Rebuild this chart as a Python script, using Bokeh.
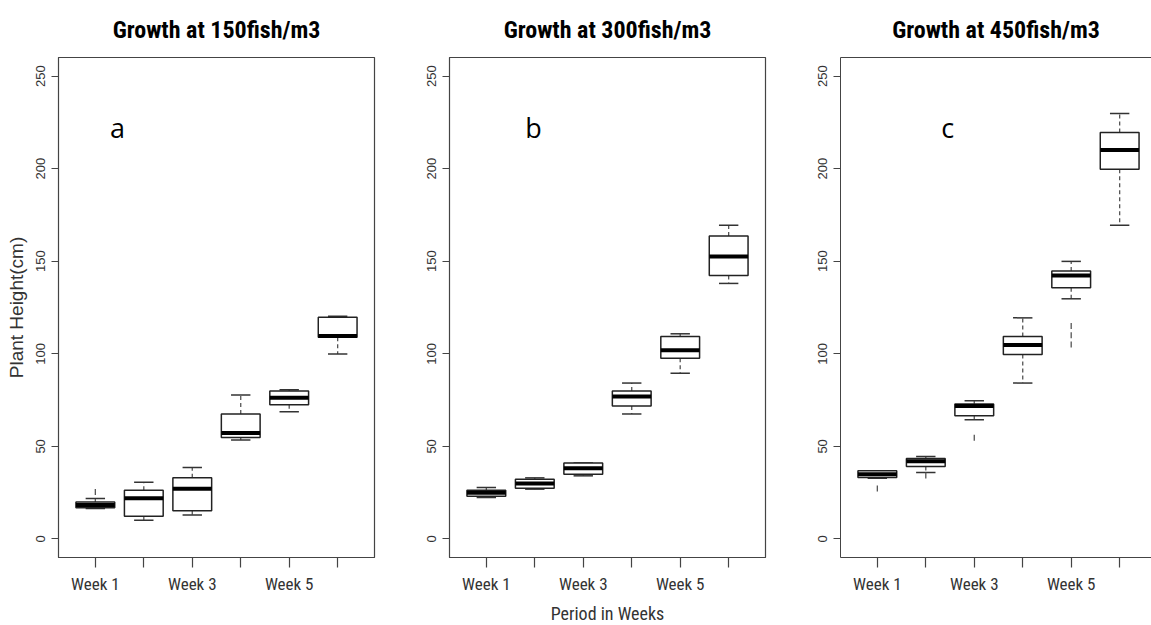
import numpy as np
from bokeh.plotting import figure
from bokeh.layouts import row
from bokeh.models import FixedTicker, Range1d, Label, LinearAxis, ColumnDataSource
from bokeh.embed import file_html
from bokeh.resources import INLINE

# Weekly plant height (cm) under three stocking densities
weeks = ["Week 1", "Week 2", "Week 3", "Week 4", "Week 5", "Week 6"]

# 150 fish/m3
a_lower = [16.4, 10.1, 13.0, 53.4, 68.7, 99.9]
a_q1 = [16.9, 12.3, 15.2, 54.8, 72.5, 108.9]
a_median = [18.4, 22.0, 27.1, 57.2, 76.3, 109.6]
a_q3 = [20.0, 26.3, 33.0, 67.5, 79.9, 119.8]
a_upper = [21.8, 30.7, 38.6, 77.7, 80.6, 120.3]
a_out_week = [1]
a_out_value = [25.4]

# 300 fish/m3
b_lower = [22.4, 26.9, 34.1, 67.5, 89.5, 138.0]
b_q1 = [23.1, 27.4, 35.0, 71.8, 97.6, 142.3]
b_median = [24.9, 29.9, 38.2, 77.0, 101.9, 152.6]
b_q3 = [26.3, 32.3, 41.0, 79.9, 109.3, 163.6]
b_upper = [27.8, 33.0, 41.0, 84.2, 110.8, 169.4]
b_out_week = []
b_out_value = []

# 450 fish/m3
c_lower = [32.8, 35.9, 64.4, 84.2, 129.7, 169.4]
c_q1 = [33.2, 39.1, 66.6, 99.6, 135.6, 199.7]
c_median = [35.0, 42.0, 71.8, 104.8, 142.3, 210.0]
c_q3 = [36.8, 43.5, 72.9, 109.3, 144.7, 219.5]
c_upper = [36.8, 44.5, 74.7, 119.4, 149.9, 229.8]
c_out_week = [1, 2, 3, 5, 5, 5]
c_out_value = [27.3, 34.3, 54.6, 105.0, 110.0, 115.0]

y_ticks = [0, 50, 100, 150, 200, 250]

NARROW = ("'Liberation Sans Narrow', 'Arial Narrow', 'Roboto Condensed', "
          "'DejaVu Sans Condensed', 'Noto Sans Condensed', 'Liberation Sans', sans-serif")
SANS = "Liberation Sans"
AXIS_COL = "#444444"
TEXT_COL = "#333333"
PX_PER_UNIT = 316 / 6.52


def panel(title, letter, letter_x, lower, q1, med, q3, upper, out_w, out_v,
          frame_w=316, y_label=None, x_label=None, open_right=False):
    x0 = 0.24
    p = figure(frame_width=frame_w, frame_height=500,
               x_range=Range1d(x0, x0 + frame_w / PX_PER_UNIT),
               y_range=Range1d(-10, 260),
               output_backend="svg", toolbar_location=None,
               min_border_left=58, min_border_right=0 if open_right else 17,
               min_border_top=57, min_border_bottom=68,
               background_fill_color="white", border_fill_color="white")
    p.grid.visible = False

    p.title.text = title
    p.title.align = "center"
    p.title.text_font = NARROW
    p.title.text_font_style = "bold"
    p.title.text_font_size = "24px"
    p.title.text_color = "black"
    p.title.standoff = 27

    xs = list(range(1, len(weeks) + 1))
    src = ColumnDataSource(dict(x=xs, lower=lower, q1=q1, med=med, q3=q3, upper=upper))

    # dashed whiskers
    p.segment(x0="x", y0="q3", x1="x", y1="upper", source=src,
              line_color="#555555", line_width=1.3, line_dash="4 3")
    p.segment(x0="x", y0="q1", x1="x", y1="lower", source=src,
              line_color="#555555", line_width=1.3, line_dash="4 3")
    # caps
    for col in ("upper", "lower"):
        cap = ColumnDataSource(dict(xl=[x - 0.2 for x in xs], xr=[x + 0.2 for x in xs],
                                    y=src.data[col]))
        p.segment(x0="xl", y0="y", x1="xr", y1="y", source=cap,
                  line_color="#333333", line_width=1.5)
    # boxes
    p.quad(left=[x - 0.4 for x in xs], right=[x + 0.4 for x in xs],
           bottom=q1, top=q3, fill_color="white",
           line_color="#222222", line_width=1.5)
    # medians
    p.segment(x0=[x - 0.4 for x in xs], y0=med, x1=[x + 0.4 for x in xs], y1=med,
              line_color="black", line_width=4)
    # outlying values
    if out_w:
        p.scatter(x=out_w, y=out_v, marker="dash", angle=np.pi / 2, size=6,
                  line_color="#555555", line_width=1.3)

    p.add_layout(Label(x=letter_x, y=222, text=letter, text_font="Open Sans",
                       text_font_size="27px", text_color="black",
                       text_align="center", text_baseline="alphabetic"))

    # axes
    xa = p.below[0]
    xa.ticker = FixedTicker(ticks=xs)
    xa.major_label_overrides = {i + 1: (w if i % 2 == 0 else "") for i, w in enumerate(weeks)}
    xa.major_tick_in = 0
    xa.major_tick_out = 10
    xa.minor_tick_line_color = None
    xa.major_label_standoff = 6
    xa.major_label_text_font = NARROW
    xa.major_label_text_font_size = "17px"
    xa.major_label_text_color = TEXT_COL
    xa.axis_line_color = AXIS_COL
    xa.major_tick_line_color = AXIS_COL
    xa.major_tick_line_width = 1.2
    if x_label:
        xa.axis_label = x_label
        xa.axis_label_standoff = 6
        xa.axis_label_text_font = NARROW
        xa.axis_label_text_font_style = "normal"
        xa.axis_label_text_font_size = "18px"
        xa.axis_label_text_color = TEXT_COL

    ya = p.left[0]
    ya.ticker = FixedTicker(ticks=y_ticks)
    ya.major_tick_in = 0
    ya.major_tick_out = 7
    ya.minor_tick_line_color = None
    ya.major_label_orientation = "vertical"
    ya.major_label_standoff = 6
    ya.major_label_text_font = SANS
    ya.major_label_text_font_size = "13px"
    ya.major_label_text_color = TEXT_COL
    ya.axis_line_color = AXIS_COL
    ya.major_tick_line_color = AXIS_COL
    ya.major_tick_line_width = 1.2
    if y_label:
        ya.axis_label = y_label
        ya.axis_label_standoff = 7
        ya.axis_label_text_font = SANS
        ya.axis_label_text_font_style = "normal"
        ya.axis_label_text_font_size = "19px"
        ya.axis_label_text_color = TEXT_COL

    if open_right:
        # frame runs past the page edge: draw only the top border line
        p.outline_line_color = None
        top = LinearAxis(ticker=FixedTicker(ticks=[]), major_tick_line_color=None,
                         minor_tick_line_color=None, major_label_text_font_size="0px",
                         major_label_standoff=0, major_tick_out=0, minor_tick_out=0,
                         axis_line_color=AXIS_COL, axis_line_width=1.2)
        p.add_layout(top, "above")
    else:
        p.outline_line_color = AXIS_COL
        p.outline_line_width = 1.2
    return p


pa = panel("Growth at 150fish/m3", "a", 1.457, a_lower, a_q1, a_median, a_q3, a_upper,
           a_out_week, a_out_value, y_label="Plant Height(cm)")
pb = panel("Growth at 300fish/m3", "b", 1.973, b_lower, b_q1, b_median, b_q3, b_upper,
           b_out_week, b_out_value, x_label="Period in Weeks")
pc = panel("Growth at 450fish/m3", "c", 2.45, c_lower, c_q1, c_median, c_q3, c_upper,
           c_out_week, c_out_value, frame_w=311, open_right=True)

layout = row(pa, pb, pc)
open("out.html", "w").write(file_html(layout, INLINE))
